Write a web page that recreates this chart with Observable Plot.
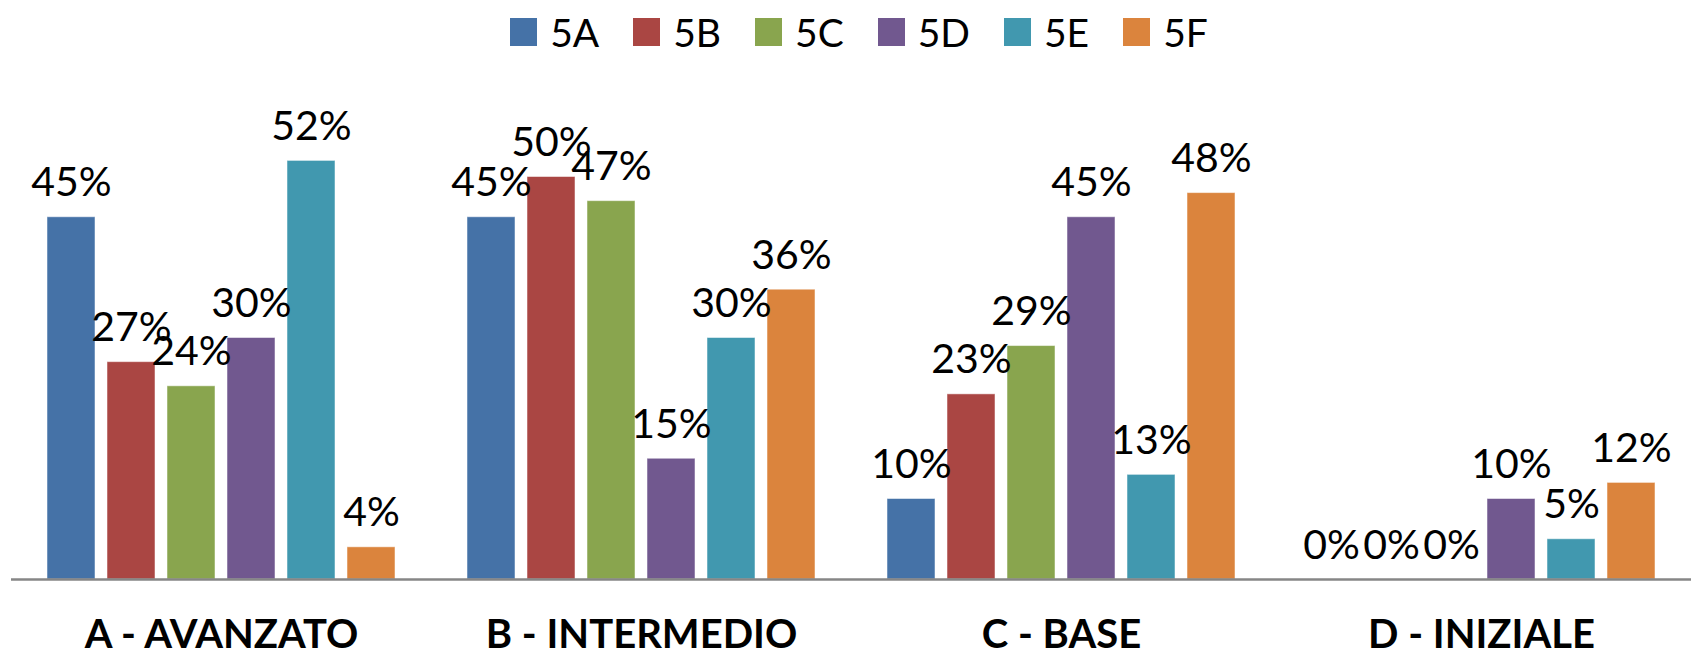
<!DOCTYPE html>
<html>
<head>
<meta charset="utf-8">
<script src="https://cdn.jsdelivr.net/npm/d3@7"></script>
<script src="https://cdn.jsdelivr.net/npm/@observablehq/plot@0.6"></script>
<style>
  html, body { margin: 0; padding: 0; background: #fff; }
  body { width: 1692px; height: 658px; overflow: hidden; font-family: Lato, "Open Sans", sans-serif; }
  #legend { height: 64px; display: flex; align-items: center; justify-content: center; padding-left: 26px; box-sizing: border-box; }
  .item { display: flex; align-items: center; margin: 0 17px; }
  .sw { width: 27px; height: 28px; margin-right: 13px; }
  .lab { font-size: 39px; color: #000; line-height: 1; }
</style>
</head>
<body>
<div id="legend"></div>
<div id="chart"></div>
<script>
const categories = ["A - AVANZATO", "B - INTERMEDIO", "C - BASE", "D - INIZIALE"];
const series = ["5A", "5B", "5C", "5D", "5E", "5F"];
const colors = ["#4572A7", "#AA4643", "#89A54E", "#71588F", "#4198AF", "#DB843D"];
const v5A = [45, 45, 10, 0];
const v5B = [27, 50, 23, 0];
const v5C = [24, 47, 29, 0];
const v5D = [30, 15, 45, 10];
const v5E = [52, 30, 13, 5];
const v5F = [4, 36, 48, 12];
const seriesValues = [v5A, v5B, v5C, v5D, v5E, v5F];

const data = [];
categories.forEach((c, i) => {
  series.forEach((s, j) => {
    data.push({cat: c, ser: s, val: seriesValues[j][i]});
  });
});

const legend = document.getElementById("legend");
series.forEach((s, j) => {
  const it = document.createElement("div");
  it.className = "item";
  it.innerHTML = `<div class="sw" style="background:${colors[j]}"></div><div class="lab">${s}</div>`;
  legend.appendChild(it);
});

const chart = Plot.plot({
  width: 1692,
  height: 594,
  marginLeft: 11,
  marginRight: 1,
  marginTop: 32,
  marginBottom: 79,
  style: {fontFamily: "Lato, 'Open Sans', sans-serif", background: "#fff"},
  fx: {domain: categories, padding: 0, label: null},
  x: {domain: series, paddingInner: 0.2, paddingOuter: 0.6, axis: null},
  y: {domain: [0, 60], axis: null},
  color: {domain: series, range: colors},
  marks: [
    Plot.barY(data, {fx: "cat", x: "ser", y: "val", fill: "ser", stroke: "#ffffff", strokeOpacity: 0.5, strokeWidth: 1}),
    Plot.ruleY([0], {stroke: "#868686", strokeWidth: 2.5}),
    Plot.text(data, {fx: "cat", x: "ser", y: "val", text: d => d.val + "%", lineAnchor: "bottom", dy: -21, fontSize: 41, fill: "#000"}),
    Plot.axisFx({anchor: "bottom", tickSize: 0, tickPadding: 40, fontSize: 40, fontWeight: "bold", label: null})
  ]
});
document.getElementById("chart").appendChild(chart);
</script>
</body>
</html>
